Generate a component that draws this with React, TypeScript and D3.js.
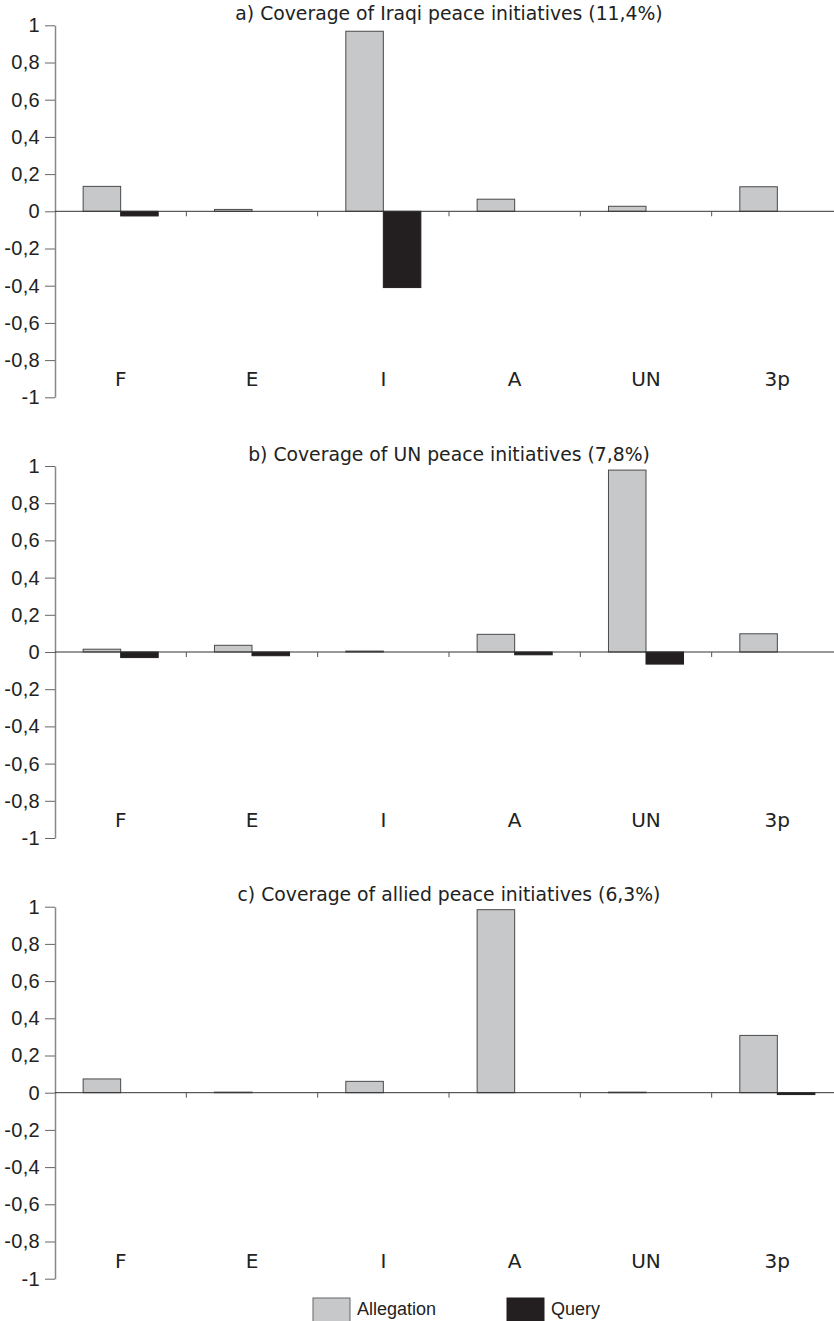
import React, { useEffect, useRef } from 'react';
import * as d3 from 'd3';

const categories = ['F', 'E', 'I', 'A', 'UN', '3p'];
const seriesNames = ['Allegation', 'Query'];

const iraqiAllegation = [0.134, 0.01, 0.968, 0.065, 0.027, 0.132];
const iraqiQuery = [-0.025, 0, -0.41, 0, 0, 0];
const unAllegation = [0.015, 0.036, 0.005, 0.095, 0.978, 0.098];
const unQuery = [-0.03, -0.02, 0, -0.015, -0.065, 0];
const alliedAllegation = [0.074, 0.003, 0.061, 0.984, 0.003, 0.308];
const alliedQuery = [0, 0, 0, 0, 0, -0.01];

const panelTitles = [
  'a) Coverage of Iraqi peace initiatives (11,4%)',
  'b) Coverage of UN peace initiatives (7,8%)',
  'c) Coverage of allied peace initiatives (6,3%)',
];
const yTicks = [-1, -0.8, -0.6, -0.4, -0.2, 0, 0.2, 0.4, 0.6, 0.8, 1];

const colors = { Allegation: '#c7c8ca', Query: '#231f20' };

const W = 834;
const H = 1321;

export default function App() {
  const ref = useRef<SVGSVGElement | null>(null);

  useEffect(() => {
    const svg = d3.select(ref.current);
    svg.selectAll('*').remove();

    const panels = [
      { title: panelTitles[0], a: iraqiAllegation, q: iraqiQuery },
      { title: panelTitles[1], a: unAllegation, q: unQuery },
      { title: panelTitles[2], a: alliedAllegation, q: alliedQuery },
    ];

    const x = d3.scaleBand().domain(categories).range([55, 843]).padding(0);
    const xSub = d3
      .scaleBand()
      .domain(seriesNames)
      .range([0, x.bandwidth()])
      .paddingInner(0)
      .paddingOuter(0.75);

    const fmt = (d: number) => String(Math.round(d * 10) / 10).replace('.', ',');

    panels.forEach((p, i) => {
      const off = i * 440.7;
      const y = d3.scaleLinear().domain([-1, 1]).range([397.3 + off, 25.3 + off]);
      const g = svg.append('g');

      // title
      g.append('text')
        .attr('x', 449)
        .attr('y', 20 + off)
        .attr('text-anchor', 'middle')
        .style('font-family', '"DejaVu Sans", Verdana, sans-serif')
        .style('font-size', '18.8px')
        .attr('fill', '#222')
        .text(p.title);

      // bars
      const rows = categories.map((c, k) => ({ c, Allegation: p.a[k], Query: p.q[k] }));
      rows.forEach(r => {
        seriesNames.forEach(s => {
          const v = (r as any)[s] as number;
          if (v === 0) return;
          g.append('rect')
            .attr('x', (x(r.c) as number) + (xSub(s) as number))
            .attr('y', y(Math.max(0, v)))
            .attr('width', xSub.bandwidth())
            .attr('height', Math.abs(y(v) - y(0)))
            .attr('fill', (colors as any)[s])
            .attr('stroke', s === 'Allegation' ? '#4a4a4a' : '#231f20')
            .attr('stroke-width', 1);
        });
      });

      // y axis
      const yAxis = g
        .append('g')
        .attr('transform', 'translate(55,0)')
        .call(d3.axisLeft(y).tickValues(yTicks).tickSize(10).tickSizeOuter(0).tickPadding(5).tickFormat(d => fmt(d as number)))
        .attr('font-size', 20)
        .attr('font-family', '"Liberation Sans", Arial, sans-serif');
      yAxis.select('.domain').attr('stroke', '#888').attr('stroke-width', 1.5);
      yAxis.selectAll('.tick line').attr('stroke', '#666');
      yAxis
        .selectAll('.tick text')
        .attr('font-size', 20)
        .attr('letter-spacing', 0.3)
        .attr('fill', '#222');

      // zero line with ticks at category boundaries
      g.append('line')
        .attr('x1', 55)
        .attr('x2', 834)
        .attr('y1', y(0))
        .attr('y2', y(0))
        .attr('stroke', '#333')
        .attr('stroke-width', 1);
      categories.slice(1).forEach(c => {
        g.append('line')
          .attr('x1', x(c) as number)
          .attr('x2', x(c) as number)
          .attr('y1', y(0))
          .attr('y2', y(0) + 5)
          .attr('stroke', '#555');
      });

      // category labels
      categories.forEach(c => {
        g.append('text')
          .attr('x', (x(c) as number) + x.bandwidth() / 2)
          .attr('y', y(0) + 175)
          .attr('text-anchor', 'middle')
          .style('font-family', '"DejaVu Sans", Verdana, sans-serif')
          .style('font-size', '20px')
          .attr('fill', '#222')
          .text(c);
      });
    });

    // legend
    const legendX = [313, 507];
    seriesNames.forEach((s, k) => {
      svg.append('rect')
        .attr('x', legendX[k])
        .attr('y', 1298)
        .attr('width', 37)
        .attr('height', 26)
        .attr('fill', (colors as any)[s])
        .attr('stroke', s === 'Allegation' ? '#666' : '#231f20');
      svg.append('text')
        .attr('x', legendX[k] + 44)
        .attr('y', 1315)
        .style('font-family', '"Liberation Sans", Arial, sans-serif')
        .style('font-size', '18px')
        .attr('fill', '#222')
        .text(s);
    });
  }, []);

  return (
    <div style={{ position: 'absolute', left: 0, top: 0, width: W, height: H, background: '#fff' }}>
      <svg ref={ref} width={W} height={H} style={{ display: 'block' }} />
    </div>
  );
}
